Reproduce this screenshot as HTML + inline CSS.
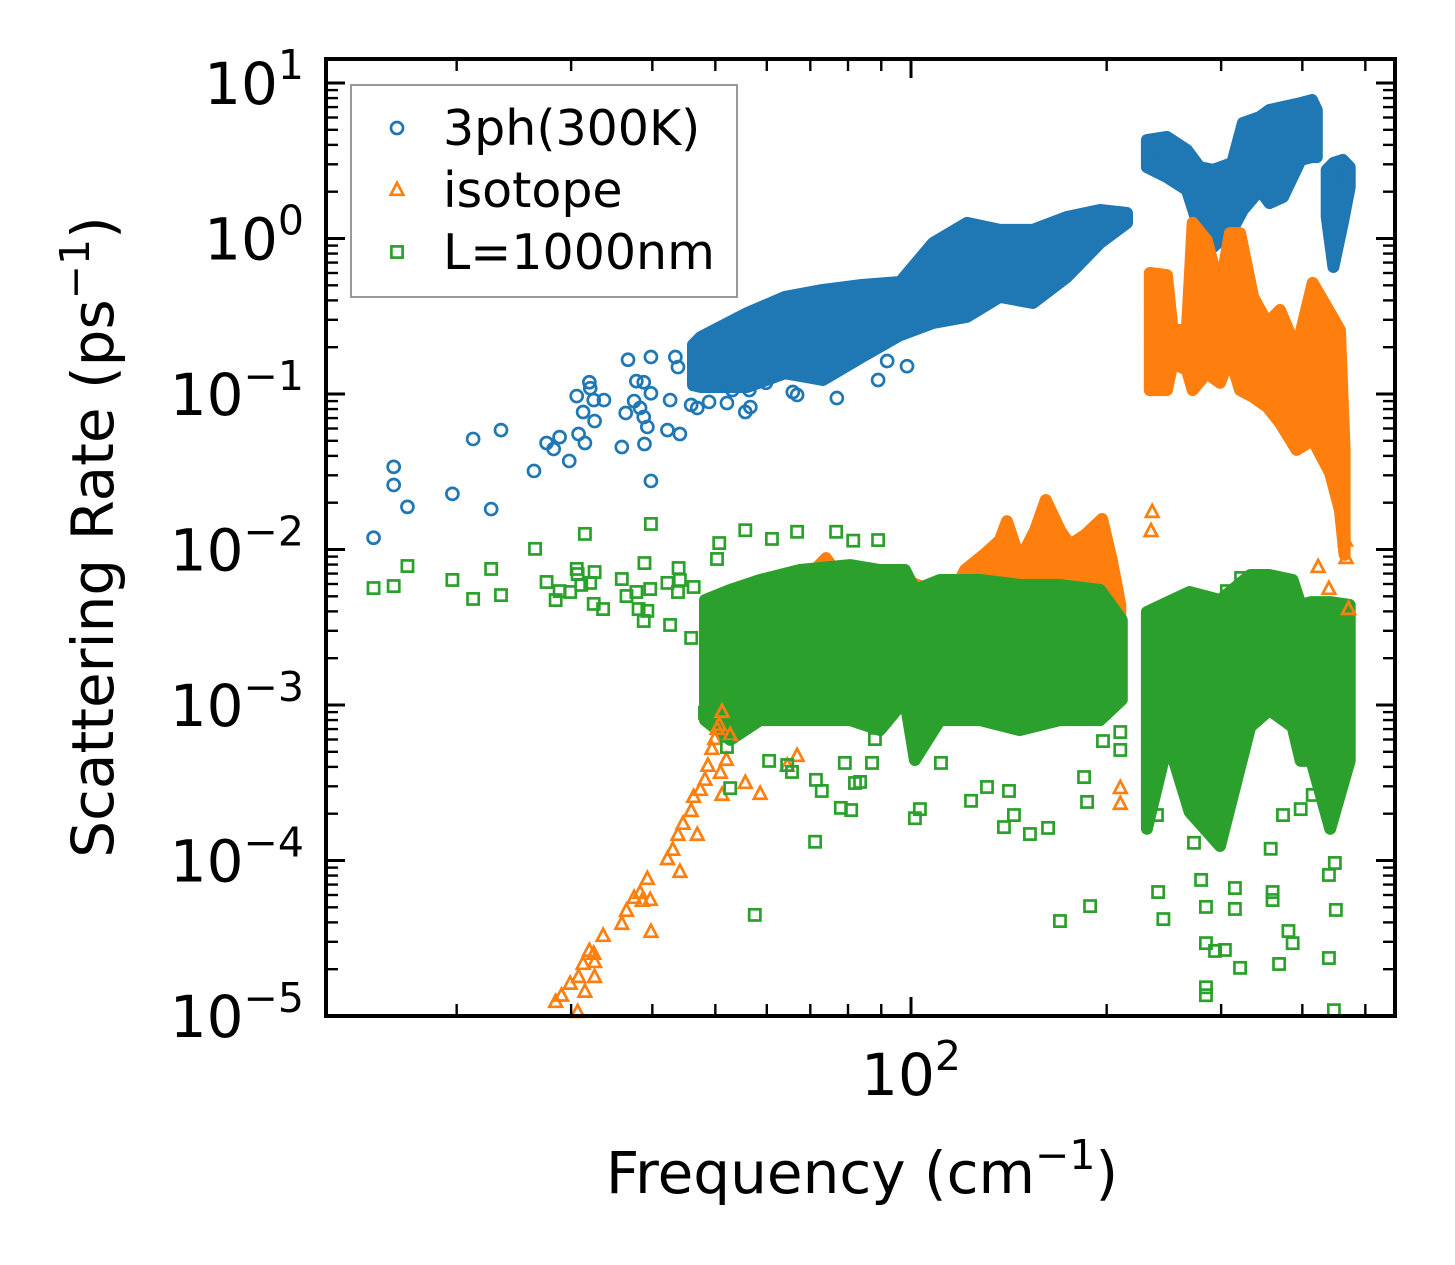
<!DOCTYPE html>
<html><head><meta charset="utf-8"><title>Scattering Rate vs Frequency</title>
<style>html,body{margin:0;padding:0;background:#fff;}svg{display:block;font-family:"DejaVu Sans","Liberation Sans",sans-serif;}</style>
</head><body>
<svg id="chart" width="1455" height="1265" viewBox="0 0 1455 1265" xmlns="http://www.w3.org/2000/svg">
<rect width="1455" height="1265" fill="#fff"/>
<g id="bands"></g><g id="points"></g><g id="axes"></g><g id="legend"></g>
</svg>
<script>
// ---- sparse scatter data ----
const blueFreq=[14.9,16.0,16.0,16.8,19.7,21.2,23.4,22.6,26.3,27.5,28.2,28.8,29.8,30.6,30.8,31.5,31.3,32.0,32.1,32.5,32.6,33.7,35.9,36.4,36.7,37.5,37.8,38.3,38.8,38.8,39.3,39.8,39.8,38.9,39.8,42.2,44.1,42.6,43.4,43.8,45.9,46.9,48.9,52.1,53.1,55.6,56.6,56.4,59.8,65.8,66.8,76.9,89.0,91.9,98.6,81.5];
const blueRate=[0.0119,0.034,0.026,0.0188,0.0228,0.0514,0.0586,0.0182,0.032,0.0484,0.0443,0.0528,0.0371,0.097,0.0553,0.0484,0.0766,0.119,0.109,0.0914,0.067,0.0914,0.0456,0.0755,0.166,0.0901,0.121,0.0813,0.119,0.0711,0.0614,0.101,0.173,0.0477,0.0276,0.0586,0.0553,0.0914,0.173,0.149,0.085,0.0813,0.0889,0.0875,0.106,0.0766,0.0824,0.106,0.118,0.103,0.0986,0.0942,0.123,0.163,0.151,0.166];
const orangeFreq=[28.4,29.0,30.7,29.9,30.8,31.5,31.3,32.0,32.5,32.6,32.6,33.6,35.9,36.5,37.5,38.3,39.3,38.6,39.7,39.8,42.2,43.0,44.1,43.8,44.6,46.9,45.9,46.3,47.4,48.2,48.7,49.4,49.9,50.3,50.7,51.2,50.9,51.2,52.0,52.7,55.6,58.6,64.5,66.8,235,234,209.9,209.9,423,439.5,467,466,471];
const orangeRate=[0.0000123,0.0000135,0.0000106,0.0000161,0.0000178,0.0000143,0.0000216,0.0000262,0.0000251,0.0000222,0.0000178,0.0000327,0.0000391,0.0000474,0.0000574,0.0000618,0.000076,0.000055,0.0000557,0.0000347,0.000102,0.000117,0.0000844,0.000146,0.000172,0.000146,0.000208,0.000256,0.000284,0.00033,0.000406,0.000521,0.000604,0.000701,0.000743,0.000902,0.000366,0.000264,0.000443,0.000641,0.000315,0.000268,0.000406,0.00047,0.0174,0.0131,0.000292,0.000231,0.0077,0.00557,0.00881,0.0114,0.00414];
const greenFreq=[14.9,16.0,16.8,19.7,21.2,22.6,23.4,26.4,27.5,28.4,28.8,29.9,30.6,30.7,31.5,31.1,32.1,32.6,32.5,33.6,35.9,36.5,37.8,38.1,38.9,39.3,38.8,39.8,39.7,42.2,42.6,43.9,43.8,44.1,45.9,46.3,50.7,50.3,55.6,61.1,66.8,76.7,81.5,89.0,48.2,52.1,52.7,60.5,64.5,65.6,71.4,72.9,79.1,82.0,78.0,80.9,71.2,57.5,
101.4,103.2,111.2,123.7,130.9,141.5,139.0,144.0,152.4,162.5,169.5,188.6,184.6,186.6,197.4,209.9,209.9,88.0,87.1,83.5,
306.2,322,319.6,272.5,279.5,284.3,284.3,293.6,304,284.3,284.3,315,320.8,315,357.6,360,360,368.4,380.8,386.5,397.7,439.5,450.4,448.8,439.5,447.3,240,244.5,239,373.5,415];
const greenRate=[0.00565,0.00582,0.00783,0.00637,0.00481,0.0075,0.00509,0.0101,0.00618,0.00473,0.0054,0.00533,0.0075,0.00695,0.0126,0.00592,0.0061,0.00716,0.00447,0.00414,0.00646,0.00502,0.00533,0.00414,0.00818,0.00403,0.00347,0.0146,0.00557,0.0061,0.00327,0.0076,0.00533,0.00637,0.0027,0.00574,0.011,0.00869,0.0133,0.0117,0.013,0.013,0.0114,0.0115,0.00089,0.000537,0.000292,0.000437,0.000411,0.000371,0.00033,0.00028,0.000424,0.000315,0.000218,0.000211,0.000132,0.0000447,
0.000187,0.000214,0.000424,0.000242,0.000297,0.00028,0.000164,0.000196,0.000148,0.000162,0.0000408,0.0000509,0.000344,0.000238,0.000586,0.000514,0.00067,0.000604,0.000424,0.00032,
0.0054,0.00656,0.00459,0.00013,0.000075,0.0000503,0.0000294,0.0000262,0.0000266,0.0000153,0.0000136,0.0000488,0.0000204,0.0000665,0.000119,0.0000627,0.0000557,0.0000216,0.0000352,0.0000294,0.000214,0.0000236,0.0000481,0.0000964,0.0000807,0.0000109,0.0000627,0.000042,0.000196,0.000196,0.000264];
// ---- dense-cloud envelopes (freq, low, high) ----
const blue1Freq=[46.2,47.5,56.0,64.0,73.2,84.0,96.2,108.1,121.9,137.0,154.0,173.7,195.4,214.9];
const blue1Hi=[0.207,0.233,0.332,0.421,0.467,0.502,0.525,0.936,1.26,1.135,1.135,1.375,1.524,1.459];
const blue1Lo=[0.114,0.111,0.111,0.136,0.123,0.173,0.239,0.286,0.313,0.421,0.385,0.565,0.936,1.26];
const blue2Freq=[230.6,247.6,265.7,278,291.6,312,324,344,356,373.5,397.7,414,421];
const blue2Hi=[4.30,4.50,3.71,2.88,2.76,3.06,5.53,6.04,6.70,7.01,7.43,7.78,6.70];
const blue2Lo=[2.88,2.48,2.05,1.135,0.881,1.135,1.524,2.05,1.69,1.85,3.20,3.34,3.34];
const blue3Freq=[436,446.5,461.6,473];
const blue3Hi=[2.76,3.06,3.20,2.88];
const blue3Lo=[1.375,0.656,1.26,2.14];
const orangeMidFreq=[52.7,55.6,58.6,65.1,69.9,74.0,79.1,83.5,89.6,99.6,106.9,114.8,121.1,130.4,137.0,140.5,147.0,155.2,161.2,169.5,175.6,185.2,196.8,203.7,209.9];
const orangeMidHi=[0.00145,0.00262,0.00408,0.00509,0.00686,0.00881,0.00592,0.00686,0.0055,0.00618,0.0055,0.00473,0.00738,0.00949,0.0115,0.0152,0.00855,0.0133,0.0208,0.0133,0.0107,0.0124,0.0157,0.00855,0.0044];
const orangeMidLo=[0.00108,0.00108,0.00125,0.00145,0.00145,0.00168,0.00168,0.00168,0.00168,0.00195,0.00195,0.00195,0.00226,0.00262,0.00303,0.00352,0.00352,0.00352,0.00408,0.00408,0.00408,0.00408,0.00408,0.00352,0.00226];
const orangeRFreq=[233,247.6,252.6,265.7,271.3,285,298.8,309.5,320.8,336,353.4,369.6,392,415,441.5,457,464.6];
const orangeRHi=[0.600,0.582,0.258,0.258,1.26,0.978,0.467,1.084,1.084,0.421,0.286,0.347,0.192,0.518,0.332,0.258,0.0437];
const orangeRLo=[0.106,0.106,0.158,0.143,0.106,0.136,0.118,0.173,0.106,0.0957,0.0824,0.0652,0.0437,0.0506,0.031,0.0179,0.00923];
const greenLFreq=[48.2,52.7,58.6,67.5,80.6,89.6,97.9,101.4,110.8,127.7,147.0,169.5,195.4,211];
const greenLHi=[0.00473,0.0055,0.00637,0.00738,0.00794,0.00738,0.00738,0.0055,0.00637,0.00637,0.00592,0.00592,0.0055,0.00352];
const greenLLo=[0.0008,0.000596,0.0008,0.0008,0.0008,0.00069,0.00108,0.000443,0.0008,0.0008,0.00069,0.0008,0.0008,0.00108];
const greenRFreq=[230.6,248.5,268.4,298.8,332.5,356,386.5,397.7,413,441.5,473];
const greenRHi=[0.00396,0.00459,0.00533,0.00473,0.00686,0.00686,0.00637,0.0044,0.00459,0.00459,0.0044];
const greenRLo=[0.00016,0.000586,0.000205,0.000124,0.000723,0.000929,0.000723,0.000437,0.000437,0.00016,0.000437];
// ---- tick labels ----
const yTickExps=[1,0,-1,-2,-3,-4,-5];
const xTickExps=[2];

const NS='http://www.w3.org/2000/svg';
const L=326,R=1395,T=59,B=1016;
const xLogMin=2-(911-L)/650, xLogMax=2+(R-911)/650;
const yLogMax=1+(83-T)/155.5, yLogMin=1-(B-83)/155.5;
function X(f){return L+(Math.log10(f)-xLogMin)/(xLogMax-xLogMin)*(R-L);}
function Y(v){return B-(Math.log10(v)-yLogMin)/(yLogMax-yLogMin)*(B-T);}
function mk(tag,attrs,parent){const e=document.createElementNS(NS,tag);for(const k in attrs)e.setAttribute(k,attrs[k]);parent.appendChild(e);return e;}
const C={blue:'#1f77b4',orange:'#ff7f0e',green:'#2ca02c'};
const bands=document.getElementById('bands'),pts=document.getElementById('points'),axes=document.getElementById('axes'),leg=document.getElementById('legend');

function band(fs,lo,hi,color,name){
  let d='';
  fs.forEach((f,i)=>{d+=(i?'L':'M')+X(f).toFixed(1)+','+Y(hi[i]).toFixed(1);});
  for(let i=fs.length-1;i>=0;i--)d+='L'+X(fs[i]).toFixed(1)+','+Y(lo[i]).toFixed(1);
  const p=mk('path',{d:d+'Z',fill:color,stroke:color,'stroke-width':12,'stroke-linejoin':'round'},bands);
  
  
}
function marker(kind,cx,cy,color,parent){
  let e;
  if(kind==='o')e=mk('circle',{cx:cx,cy:cy,r:6,fill:'none',stroke:color,'stroke-width':2.7},parent);
  else if(kind==='^')e=mk('path',{d:`M${cx},${cy-7.2}L${cx+6.3},${cy+4.8}L${cx-6.3},${cy+4.8}Z`,fill:'none',stroke:color,'stroke-width':2.7},parent);
  else e=mk('rect',{x:cx-5.6,y:cy-5.6,width:11.2,height:11.2,fill:'none',stroke:color,'stroke-width':2.7},parent);
  return e;
}
function series(fs,vs,kind,color,name){
  const g=mk('g',{},pts);
  
  
  fs.forEach((f,i)=>{
    const e=marker(kind,X(f),Y(vs[i]),color,g);
    
    
  });
}
band(blue1Freq,blue1Lo,blue1Hi,C.blue,'3ph-cloud-low');
band(blue2Freq,blue2Lo,blue2Hi,C.blue,'3ph-cloud-high');
band(blue3Freq,blue3Lo,blue3Hi,C.blue,'3ph-cloud-top');
series(blueFreq,blueRate,'o',C.blue,'3ph-series');
band(orangeMidFreq,orangeMidLo,orangeMidHi,C.orange,'isotope-cloud-mid');
band(orangeRFreq,orangeRLo,orangeRHi,C.orange,'isotope-cloud-high');
series(orangeFreq,orangeRate,'^',C.orange,'isotope-series');
band(greenLFreq,greenLLo,greenLHi,C.green,'boundary-cloud-mid');
band(greenRFreq,greenRLo,greenRHi,C.green,'boundary-cloud-high');
series(greenFreq,greenRate,'s',C.green,'boundary-series');

// ---- axes ----
function line(x1,y1,x2,y2,w,name){const e=mk('line',{x1:x1,y1:y1,x2:x2,y2:y2,stroke:'#000','stroke-width':w},axes);return e;}
for(let e=-6;e<=1;e++){
  for(let m=1;m<=9;m++){
    const v=m*Math.pow(10,e), y=Y(v);
    if(y<T-0.5||y>B+0.5)continue;
    const len=m===1?19:12, w=m===1?3:2.4;
    line(L,y,L+len,y,w,'y-tick');
    line(R,y,R-len,y,w,'y-tick-right');
  }
}
for(let e=1;e<=2;e++){
  for(let m=1;m<=9;m++){
    const f=m*Math.pow(10,e), x=X(f);
    if(x<L||x>R)continue;
    const len=m===1?19:12, w=m===1?3:2.4;
    line(x,B,x,B-len,w,'x-tick');
    line(x,T,x,T+len,w,'x-tick-top');
  }
}
const frame=mk('rect',{x:L,y:T,width:R-L,height:B-T,fill:'none',stroke:'#000','stroke-width':4},axes);


yTickExps.forEach(ex=>{
  const y=Y(Math.pow(10,ex));
  const t=mk('text',{x:304,y:y+21,'text-anchor':'end','font-size':58,fill:'#000'},axes);
  
  
  const a=mk('tspan',{},t);a.textContent='10';
  const b=mk('tspan',{dy:-25,'font-size':41},t);b.textContent=(ex<0?'\u2212':'')+Math.abs(ex);
});
xTickExps.forEach(ex=>{
  const x=X(Math.pow(10,ex));
  const t=mk('text',{x:x,y:1095,'text-anchor':'middle','font-size':58,fill:'#000'},axes);
  
  
  const a=mk('tspan',{},t);a.textContent='10';
  const b=mk('tspan',{dy:-25,'font-size':41},t);b.textContent=String(ex);
});
const xl=mk('text',{x:862,y:1193,'text-anchor':'middle','font-size':58,fill:'#000'},axes);


xl.innerHTML='Frequency (cm<tspan dy="-24" font-size="41">\u22121</tspan><tspan dy="24">)</tspan>';
const yl=mk('text',{x:0,y:0,'text-anchor':'middle','font-size':58,fill:'#000',transform:'translate(113,537) rotate(-90)'},axes);


yl.innerHTML='Scattering Rate (ps<tspan dy="-24" font-size="41">\u22121</tspan><tspan dy="24">)</tspan>';

// ---- legend ----
const lb=mk('rect',{x:351,y:85,width:386,height:212,fill:'#fff',stroke:'#999','stroke-width':2},leg);


const legendLabels=['3ph(300K)','isotope','L=1000nm'];
const legendKinds=['o','^','s'];
const legendColors=[C.blue,C.orange,C.green];
legendLabels.forEach((lab,i)=>{
  const cy=128+i*62;
  const g=mk('g',{},leg);
  
  
  marker(legendKinds[i],397,cy,legendColors[i],g);
  const t=mk('text',{x:443,y:cy+17,'font-size':49,fill:'#000'},g);
  t.textContent=lab;
});
</script>
</body></html>
